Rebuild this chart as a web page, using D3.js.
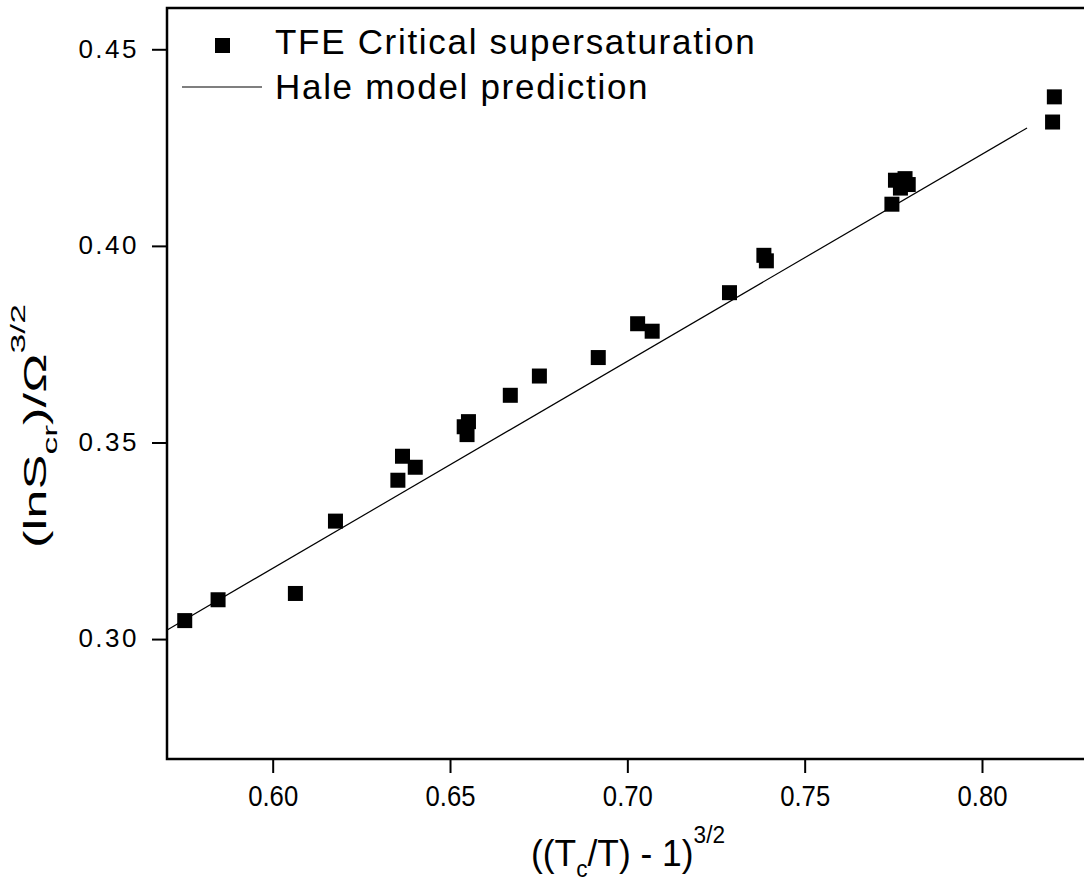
<!DOCTYPE html>
<html>
<head>
<meta charset="utf-8"/>
<script src="https://cdn.jsdelivr.net/npm/d3@7"></script>
<title>Critical supersaturation vs Hale model</title>
<style>
body { margin: 0; background: #fff; }
svg text { font-family: Arial, "Liberation Sans", sans-serif; fill: #000; }
</style>
</head>
<body>
<script>
// measured points (x = ((Tc/T)-1)^1.5, y = lnS_cr / Omega^1.5)
var tfeX = [0.5752, 0.5846, 0.6064, 0.6177, 0.6353, 0.6366, 0.6402, 0.6540, 0.6552, 0.6548,
            0.6670, 0.6752, 0.6918, 0.7029, 0.7070, 0.7288, 0.7385, 0.7392, 0.7746,
            0.7756, 0.7783, 0.7770, 0.7792, 0.8199, 0.8204];
var tfeY = [0.3047, 0.3100, 0.3116, 0.3300, 0.3404, 0.3465, 0.3437, 0.3540, 0.3553, 0.3520,
            0.3620, 0.3669, 0.3716, 0.3802, 0.3783, 0.3881, 0.3976, 0.3962, 0.4106,
            0.4167, 0.4171, 0.4147, 0.4156, 0.4315, 0.4379];
// Hale model line end points
var haleX = [0.5700, 0.8127];
var haleY = [0.3022, 0.4300];

var xTicks = [0.60, 0.65, 0.70, 0.75, 0.80];
var yTicks = [0.30, 0.35, 0.40, 0.45];
var xDomain = [0.5702, 0.8344];
var yDomain = [0.2695, 0.4605];

var W = 1084, H = 884;
var mLeft = 167, mTop = 8, mRight = 1104, mBottom = 759;

var svg = d3.select("body").append("svg")
    .attr("width", W).attr("height", H);

var x = d3.scaleLinear().domain(xDomain).range([mLeft, mRight]);
var y = d3.scaleLinear().domain(yDomain).range([mBottom, mTop]);

// frame
svg.append("rect")
    .attr("x", mLeft).attr("y", mTop)
    .attr("width", mRight - mLeft).attr("height", mBottom - mTop)
    .attr("fill", "none").attr("stroke", "#000").attr("stroke-width", 2.5);

// axes
var xAxis = svg.append("g")
    .attr("transform", "translate(0," + mBottom + ")")
    .call(d3.axisBottom(x).tickValues(xTicks).tickFormat(d3.format(".2f"))
        .tickSize(14).tickPadding(12));
var yAxis = svg.append("g")
    .attr("transform", "translate(" + mLeft + ",0)")
    .call(d3.axisLeft(y).tickValues(yTicks).tickFormat(d3.format(".2f"))
        .tickSize(15).tickPadding(13));

[xAxis, yAxis].forEach(function(a) {
  a.select(".domain").remove();
  a.selectAll(".tick line").attr("stroke", "#000").attr("stroke-width", 2);
  a.selectAll(".tick text").attr("font-size", 26).attr("fill", "#000")
    .style("font-family", "Arial, 'Liberation Sans', sans-serif");
});
// x tick labels look narrow and tall in the original
xAxis.selectAll(".tick text").attr("font-size", 29)
    .attr("textLength", 50).attr("lengthAdjust", "spacingAndGlyphs");
yAxis.selectAll(".tick text").attr("letter-spacing", 2.5).attr("dy", "0.3em");

// model line
var line = d3.line().x(function(d) { return x(d[0]); }).y(function(d) { return y(d[1]); });
svg.append("path")
    .datum(d3.zip(haleX, haleY))
    .attr("d", line)
    .attr("fill", "none").attr("stroke", "#000").attr("stroke-width", 1.2);

// data squares
var sq = 15;
svg.selectAll("rect.pt")
    .data(d3.zip(tfeX, tfeY))
    .enter().append("rect")
    .attr("class", "pt")
    .attr("x", function(d) { return x(d[0]) - sq / 2; })
    .attr("y", function(d) { return y(d[1]) - sq / 2; })
    .attr("width", sq).attr("height", sq)
    .attr("fill", "#000");

// legend
var leg = svg.append("g");
leg.append("rect").attr("x", 215).attr("y", 38).attr("width", 15).attr("height", 15).attr("fill", "#000");
leg.append("text").attr("x", 275).attr("y", 54).attr("font-size", 35).attr("letter-spacing", 1.7)
    .text("TFE Critical supersaturation");
leg.append("line").attr("x1", 182).attr("x2", 262).attr("y1", 87).attr("y2", 87)
    .attr("stroke", "#000").attr("stroke-width", 1.2);
leg.append("text").attr("x", 275).attr("y", 99).attr("font-size", 35).attr("letter-spacing", 1.7)
    .text("Hale model prediction");

// x title (condensed)
var xt = svg.append("text").attr("x", 531).attr("y", 866)
    .attr("font-size", 36)
    .attr("textLength", 194).attr("lengthAdjust", "spacingAndGlyphs");
xt.append("tspan").text("((T");
xt.append("tspan").attr("dy", 11).attr("font-size", 23).text("c");
xt.append("tspan").attr("dy", -11).text("/T) - 1)");
xt.append("tspan").attr("dy", -23).attr("font-size", 23).text("3/2");

// y title (stretched along its length)
var yt = svg.append("text").attr("transform", "translate(46,548) rotate(-90)")
    .attr("font-size", 31)
    .attr("textLength", 244).attr("lengthAdjust", "spacingAndGlyphs");
yt.append("tspan").text("(lnS");
yt.append("tspan").attr("dy", 11).attr("font-size", 21).text("cr");
yt.append("tspan").attr("dy", -11).text(")/\u03A9");
yt.append("tspan").attr("dy", -21).attr("font-size", 21).text("3/2");
</script>
</body>
</html>
